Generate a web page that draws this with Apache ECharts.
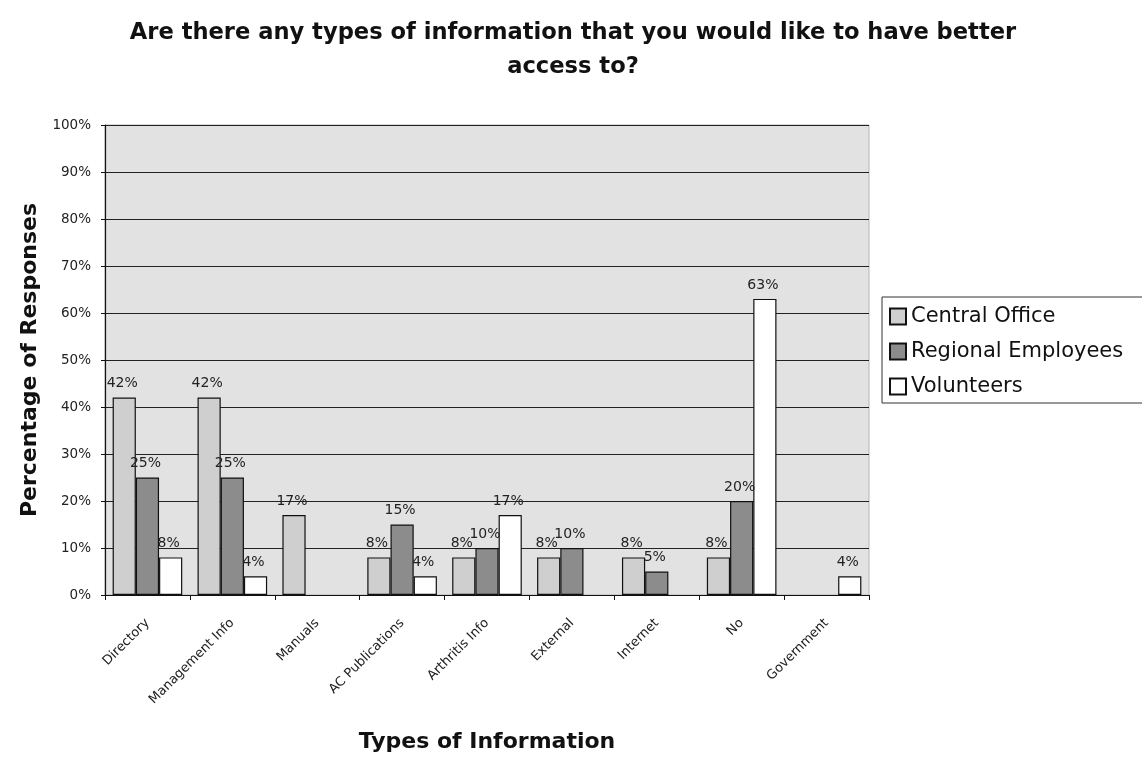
<!DOCTYPE html>
<html>
<head>
<meta charset="utf-8">
<script src="https://cdn.jsdelivr.net/npm/echarts@6/dist/echarts.min.js"></script>
<style>
  html, body { margin: 0; padding: 0; background: #ffffff; }
  #chart { width: 1142px; height: 759px; }
</style>
</head>
<body>
<div id="chart"></div>
<script>
// Survey responses per information type, in percent (null = no responses)
const categories = ['Directory', 'Management Info', 'Manuals', 'AC Publications', 'Arthritis Info', 'External', 'Internet', 'No', 'Government'];
const centralOffice = [42, 42, 17, 8, 8, 8, 8, 8, null];
const regionalEmployees = [25, 25, null, 15, 10, 10, 5, 20, null];
const volunteers = [8, 4, null, 4, 17, null, null, 63, 4];
const yTicks = [0, 10, 20, 30, 40, 50, 60, 70, 80, 90, 100];

const FONT = '"DejaVu Sans", Verdana, sans-serif';

const chart = echarts.init(document.getElementById('chart'), null, { renderer: 'canvas' });

function barSeries(name, data, color) {
  return {
    name: name,
    type: 'bar',
    data: data,
    barGap: '0%',
    barCategoryGap: '18%',
    itemStyle: { color: color, borderColor: '#111', borderWidth: 1.2 },
    label: {
      show: true,
      position: 'top',
      distance: 7,
      offset: [-2, 0],
      fontFamily: FONT,
      fontSize: 14,
      color: '#222',
      formatter: p => (p.value == null ? '' : p.value + '%')
    }
  };
}

chart.setOption({
  animation: false,
  backgroundColor: '#ffffff',
  title: {
    text: 'Are there any types of information that you would like to have better\naccess to?',
    left: 568,
    top: 11,
    textAlign: 'center',
    textStyle: { fontFamily: FONT, fontSize: 22.6, fontWeight: 'bold', color: '#111', lineHeight: 34 }
  },
  legend: {
    orient: 'vertical',
    left: 882,
    top: 297,
    padding: [9, 30, 6, 7],
    itemGap: 14,
    itemWidth: 16,
    itemHeight: 16,
    icon: 'rect',
    backgroundColor: '#ffffff',
    borderColor: '#333',
    borderWidth: 1,
    textStyle: { fontFamily: FONT, fontSize: 21, lineHeight: 21, color: '#111' },
    data: ['Central Office', 'Regional Employees', 'Volunteers']
  },
  grid: {
    left: 105,
    right: 273,
    top: 125,
    bottom: 164,
    show: true,
    backgroundColor: '#e2e2e2',
    borderColor: '#b5b5b5',
    borderWidth: 1
  },
  xAxis: {
    type: 'category',
    data: categories,
    name: 'Types of Information',
    nameLocation: 'middle',
    nameGap: 136,
    nameTextStyle: { fontFamily: FONT, fontSize: 22, fontWeight: 'bold', color: '#111' },
    axisLine: { lineStyle: { color: '#111', width: 1.2 } },
    axisTick: { show: true, length: 5, lineStyle: { color: '#111' } },
    axisLabel: {
      rotate: 45,
      interval: 0,
      margin: 26,
      fontFamily: FONT,
      fontSize: 13,
      color: '#222'
    }
  },
  yAxis: {
    type: 'value',
    min: 0,
    max: 100,
    interval: 10,
    name: 'Percentage of Responses',
    nameLocation: 'middle',
    nameGap: 48,
    nameTextStyle: { fontFamily: FONT, fontSize: 22, fontWeight: 'bold', color: '#111' },
    axisLine: { show: true, lineStyle: { color: '#111', width: 1.2 } },
    axisTick: { show: true, length: 4, lineStyle: { color: '#111' } },
    axisLabel: {
      fontFamily: FONT,
      fontSize: 13.5,
      color: '#222',
      margin: 14,
      formatter: v => (yTicks.indexOf(v) >= 0 ? v + '%' : '')
    },
    splitLine: { show: true, lineStyle: { color: '#222', width: 1 } }
  },
  series: [
    barSeries('Central Office', centralOffice, '#cfcfcf'),
    barSeries('Regional Employees', regionalEmployees, '#8c8c8c'),
    barSeries('Volunteers', volunteers, '#ffffff')
  ]
});
</script>
</body>
</html>
